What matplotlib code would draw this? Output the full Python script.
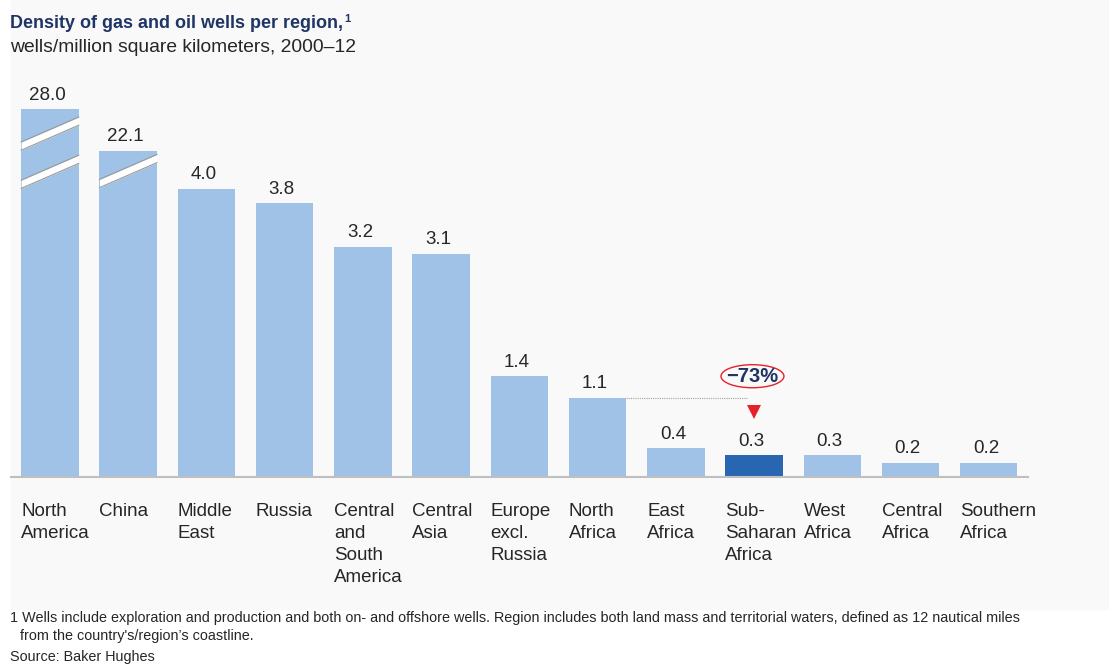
import numpy as np
import matplotlib.pyplot as plt
from matplotlib.patches import Ellipse, Rectangle

plt.rcParams['font.family'] = ['Liberation Sans', 'DejaVu Sans']

regions = ['North\nAmerica', 'China', 'Middle\nEast', 'Russia',
           'Central\nand\nSouth\nAmerica', 'Central\nAsia', 'Europe\nexcl.\nRussia',
           'North\nAfrica', 'East\nAfrica', 'Sub-\nSaharan\nAfrica', 'West\nAfrica',
           'Central\nAfrica', 'Southern\nAfrica']
values = [28.0, 22.1, 4.0, 3.8, 3.2, 3.1, 1.4, 1.1, 0.4, 0.3, 0.3, 0.2, 0.2]
highlight = 9        # Sub-Saharan Africa
compare_to = 7       # North Africa

LIGHT = '#9fc2e6'
DARK = '#2966b1'
NAVY = '#1f3566'
RED = '#e8202a'
TEXT = '#262626'
BAR_W = 0.735

# broken axis: values above CUT sit on a compressed upper segment
CUT = 5.0
UPPER_BASE, UPPER_SCALE = 2.4, 0.0966


def drawn(v):
    return v if v < CUT else UPPER_BASE + UPPER_SCALE * v


# where the white slashes cross the broken bars (axis units)
cuts = {0: [4.24, 4.77], 1: [4.25]}
SLOPE = 0.347      # rise across one bar
HALF = 0.057       # half thickness of a slash

fig = plt.figure(figsize=(11.09, 6.64), dpi=100)
fig.patches.append(Rectangle((11 / 1109, 1 - 609 / 664), 1, 609 / 664,
                             transform=fig.transFigure, color='#f9f9f9', zorder=-1))

ax = fig.add_axes([0.0098, 0.2816, 0.917, 0.5828])
ax.set_facecolor('none')

x = np.arange(len(values))
heights = [drawn(v) for v in values]
colors = [DARK if i == highlight else LIGHT for i in x]
ax.bar(x, heights, width=BAR_W, color=colors, zorder=2)

for i, ys in cuts.items():
    x0, x1 = x[i] - BAR_W / 2, x[i] + BAR_W / 2
    for y in ys:
        lo = [y - SLOPE / 2 - HALF, y + SLOPE / 2 - HALF]
        hi = [y - SLOPE / 2 + HALF, y + SLOPE / 2 + HALF]
        ax.fill_between([x0, x1], lo, hi, color='white', lw=0, zorder=3)
        ax.plot([x0, x1], lo, color='#9a9a9a', lw=0.8, zorder=4)
        ax.plot([x0, x1], hi, color='#9a9a9a', lw=0.8, zorder=4)

for xi, v, h in zip(x, values, heights):
    ax.annotate(f'{v:.1f}', (xi, h), xytext=(-2, 4), textcoords='offset points',
                ha='center', va='bottom', fontsize=13.5, color=TEXT)

for xi, lab in zip(x, regions):
    ax.annotate(lab, xy=(xi - BAR_W / 2, 0), xycoords=('data', 'axes fraction'),
                xytext=(0, -18.5), textcoords='offset points', ha='left', va='top',
                fontsize=13.5, color=TEXT, linespacing=1.38)

# drop from North Africa to Sub-Saharan Africa
ax.plot([x[compare_to] + BAR_W / 2, x[highlight] - 0.09], [values[compare_to]] * 2,
        ls=(0, (1, 1)), color='#a0a0a0', lw=0.8, zorder=1)
ax.plot(x[highlight], 0.9, marker='v', ms=10, color=RED, mew=0, zorder=3)
change = round(100 * (1 - values[highlight] / values[compare_to]))
ax.add_patch(Ellipse((x[highlight] - 0.02, 1.40), 0.805, 0.32, fill=False,
                     edgecolor=RED, lw=1, zorder=3))
ax.text(x[highlight] - 0.02, 1.40, f'\u2212{change}%', ha='center', va='center',
        fontsize=14.5, fontweight='bold', color=NAVY, zorder=4)

ax.set_xlim(-0.5, 12.5)
ax.set_ylim(0, 5.375)
for side in ['top', 'left', 'right']:
    ax.spines[side].set_visible(False)
ax.spines['bottom'].set_color('#bfbfbf')
ax.spines['bottom'].set_linewidth(1.5)
ax.set_xticks([])
ax.set_yticks([])

title = fig.text(10 / 1109, 1 - 28 / 664, 'Density of gas and oil wells per region,',
                 fontsize=13, fontweight='bold', color=NAVY, va='baseline')
ax.annotate('1', xy=(1, 1), xycoords=title, xytext=(1, 1), textcoords='offset points',
            ha='left', va='top', fontsize=8, fontweight='bold', color=NAVY,
            annotation_clip=False)
fig.text(10 / 1109, 1 - 52 / 664, 'wells/million square kilometers, 2000\u201312',
         fontsize=13.85, color=TEXT, va='baseline')

fig.text(10 / 1109, 1 - 622 / 664,
         '1 Wells include exploration and production and both on- and offshore wells. '
         'Region includes both land mass and territorial waters, defined as 12 nautical miles',
         fontsize=10.4, color=TEXT, va='baseline')
fig.text(20 / 1109, 1 - 640 / 664, "from the country's/region\u2019s coastline.",
         fontsize=10.4, color=TEXT, va='baseline')
fig.text(10 / 1109, 1 - 661 / 664, 'Source: Baker Hughes',
         fontsize=10.4, color=TEXT, va='baseline')

fig.savefig('out.png', dpi=100)
